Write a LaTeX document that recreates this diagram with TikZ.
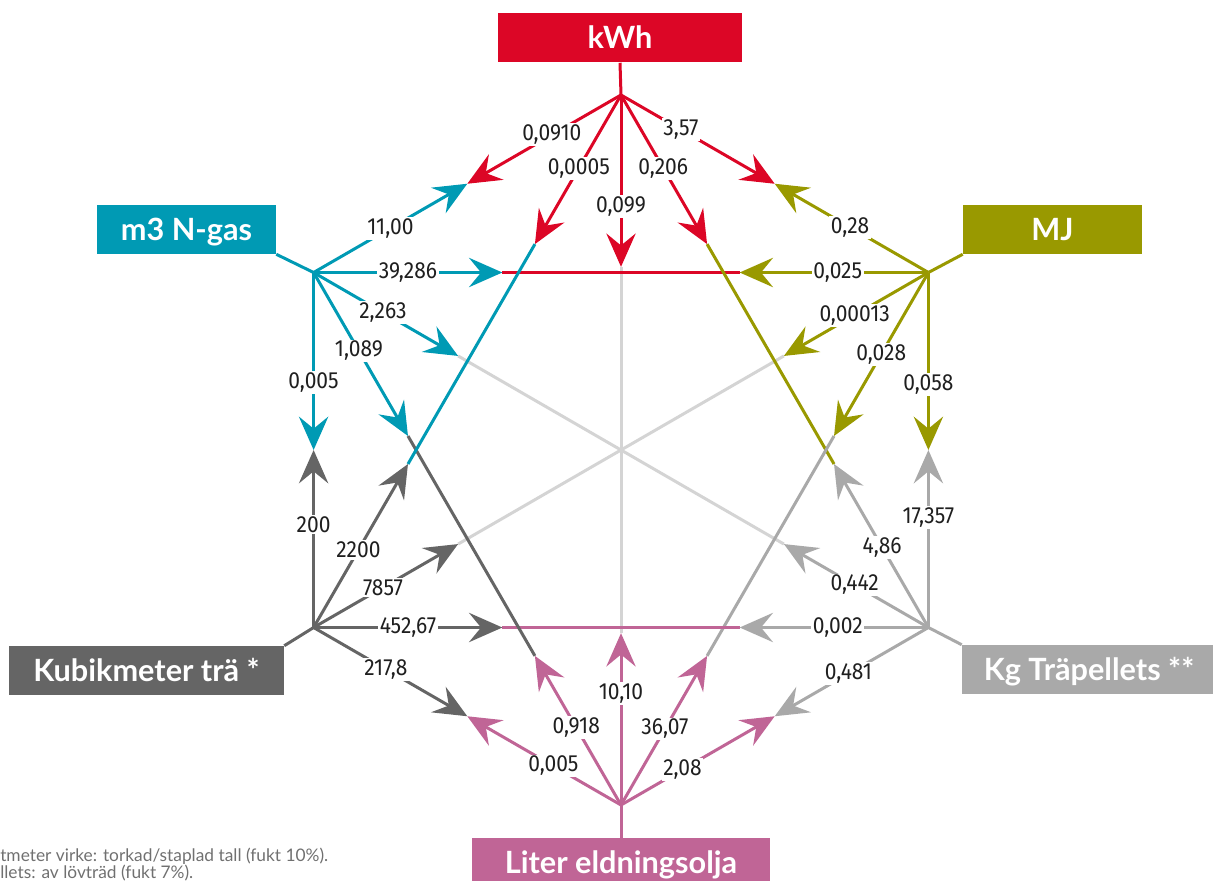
\documentclass[tikz,border=0pt]{standalone}
\usepackage{fontspec}
\setmainfont{Lato}
\newfontfamily\numfont[FakeStretch=0.9]{Fira Sans}
\usetikzlibrary{calc,positioning,arrows.meta}
\definecolor{ekred}{HTML}{DC0626}
\definecolor{ekcyan}{HTML}{009AB4}
\definecolor{ekolive}{HTML}{999900}
\definecolor{ekdark}{HTML}{656565}
\definecolor{ekgray}{HTML}{A9A9A9}
\definecolor{ekpink}{HTML}{C06596}
\definecolor{eklight}{HTML}{D4D4D4}
\definecolor{ekfoot}{HTML}{707070}
\tikzset{
  arr/.style={-{Stealth[length=25pt,width=22pt,inset=9pt]},line width=2.25pt},
  seg/.style={line width=2.25pt},
  num/.style={fill=white,inner sep=1.2pt,font=\numfont\fontsize{17.5}{20}\selectfont,text=black!88},
  unitbox/.style={inner sep=0pt,text=white,font=\bfseries\fontsize{23}{26}\selectfont,
    minimum height=36.75pt,text height=16.5pt,text depth=0pt},
  footnote/.style={anchor=base west,inner sep=0pt,text=ekfoot,font=\fontsize{13}{15}\selectfont}
}
\begin{document}
\begin{tikzpicture}[x=0.75pt,y=-0.75pt]
	\clip (0,0) rectangle (1213,881);
	\coordinate (CENTER) at (621,450);
	% hubs of the hexagon
	\coordinate (kwh) at ($ (CENTER) + (0,-355) $);
	\coordinate (mj) at ($ (CENTER) + (307.4,-177.5) $);
	\coordinate (kg) at ($ (CENTER) + (307.4,177.5) $);
	\coordinate (lit) at ($ (CENTER) + (0,355) $);
	\coordinate (kub) at ($ (CENTER) + (-307.4,177.5) $);
	\coordinate (m3) at ($ (CENTER) + (-307.4,-177.5) $);
	% unit boxes
	\node[unitbox,fill=ekred,minimum width=183pt] (kwhbox) at (620,38) {kWh};
	\node[unitbox,fill=ekcyan,minimum width=134.25pt] (m3box) at (186.5,229.5) {m3 N-gas};
	\node[unitbox,fill=ekolive,minimum width=134.25pt] (mjbox) at (1052.5,229.5) {MJ};
	\node[unitbox,fill=ekdark,minimum width=206.25pt] (kubbox) at (146.5,670.5) {Kubikmeter trä *};
	\node[unitbox,fill=ekgray,minimum width=190.5pt] (kgbox) at (1089,669.5) {Kg Träpellets **};
	\node[unitbox,fill=ekpink,minimum width=223.5pt] (litbox) at (621,862.5) {Liter eldningsolja};
	\draw[seg,ekred] (kwh) to (kwhbox.south);
	\draw[seg,ekolive] (mj) to (mjbox.south west);
	\draw[seg,ekgray] (kg) to (kgbox.north west);
	\draw[seg,ekpink] (lit) to (litbox.north);
	\draw[seg,ekdark] (kub) to (kubbox.north east);
	\draw[seg,ekcyan] (m3) to (m3box.south east);
	% arrow ends: neighbours meet half way
	\coordinate (mid-kwh-mj) at ($ (kwh)!0.5!(mj) $);
	\coordinate (mid-mj-kg) at ($ (mj)!0.5!(kg) $);
	\coordinate (mid-kg-lit) at ($ (kg)!0.5!(lit) $);
	\coordinate (mid-lit-kub) at ($ (lit)!0.5!(kub) $);
	\coordinate (mid-kub-m3) at ($ (kub)!0.5!(m3) $);
	\coordinate (mid-m3-kwh) at ($ (m3)!0.5!(kwh) $);
	% arrow ends: second neighbours
	\coordinate (t-kwh-kub) at ($ (kwh)!0.28!(kub) $);
	\coordinate (t-kwh-kg) at ($ (kwh)!0.28!(kg) $);
	\coordinate (t-lit-m3) at ($ (lit)!0.28!(m3) $);
	\coordinate (t-lit-mj) at ($ (lit)!0.28!(mj) $);
	\coordinate (t-m3-mj) at ($ (m3)!0.307!(mj) $);
	\coordinate (t-m3-lit) at ($ (m3)!0.307!(lit) $);
	\coordinate (t-mj-m3) at ($ (mj)!0.307!(m3) $);
	\coordinate (t-mj-lit) at ($ (mj)!0.307!(lit) $);
	\coordinate (t-kg-kwh) at ($ (kg)!0.307!(kwh) $);
	\coordinate (t-kg-kub) at ($ (kg)!0.307!(kub) $);
	\coordinate (t-kub-kwh) at ($ (kub)!0.307!(kwh) $);
	\coordinate (t-kub-kg) at ($ (kub)!0.307!(kg) $);
	% arrow ends: opposite hubs
	\coordinate (t-kwh-lit) at ($ (kwh)!0.242!(lit) $);
	\coordinate (t-lit-kwh) at ($ (lit)!0.242!(kwh) $);
	\coordinate (t-m3-kg) at ($ (m3)!0.235!(kg) $);
	\coordinate (t-kg-m3) at ($ (kg)!0.235!(m3) $);
	\coordinate (t-mj-kub) at ($ (mj)!0.235!(kub) $);
	\coordinate (t-kub-mj) at ($ (kub)!0.235!(mj) $);
	% inner lines
	\draw[seg,eklight] (t-kwh-lit) to (t-lit-kwh);
	\draw[seg,eklight] (t-m3-kg) to (t-kg-m3);
	\draw[seg,eklight] (t-mj-kub) to (t-kub-mj);
	\draw[seg,ekred] (t-m3-mj) to (t-mj-m3);
	\draw[seg,ekolive] (t-kwh-kg) to (t-kg-kwh);
	\draw[seg,ekgray] (t-mj-lit) to (t-lit-mj);
	\draw[seg,ekpink] (t-kub-kg) to (t-kg-kub);
	\draw[seg,ekdark] (t-m3-lit) to (t-lit-m3);
	\draw[seg,ekcyan] (t-kwh-kub) to (t-kub-kwh);
	% kWh
	\draw[arr,ekred] (kwh) to node[num,pos=0.45] {0,0910} (mid-m3-kwh);
	\draw[arr,ekred] (kwh) to node[num,pos=0.49] {0,0005} (t-kwh-kub);
	\draw[arr,ekred] (kwh) to node[num,pos=0.65] {0,099} (t-kwh-lit);
	\draw[arr,ekred] (kwh) to node[num,pos=0.49] {0,206} (t-kwh-kg);
	\draw[arr,ekred] (kwh) to node[num,pos=0.39] {3,57} (mid-kwh-mj);
	% MJ
	\draw[arr,ekolive] (mj) to node[num,pos=0.51] {0,28} (mid-kwh-mj);
	\draw[arr,ekolive] (mj) to node[num,pos=0.48] {0,025} (t-mj-m3);
	\draw[arr,ekolive] (mj) to node[num,pos=0.51] {0,00013} (t-mj-kub);
	\draw[arr,ekolive] (mj) to node[num,pos=0.50] {0,028} (t-mj-lit);
	\draw[arr,ekolive] (mj) to node[num,pos=0.63] {0,058} (mid-mj-kg);
	% Kg
	\draw[arr,ekgray] (kg) to node[num,pos=0.62] {17,357} (mid-mj-kg);
	\draw[arr,ekgray] (kg) to node[num,pos=0.49] {4,86} (t-kg-kwh);
	\draw[arr,ekgray] (kg) to node[num,pos=0.51] {0,442} (t-kg-m3);
	\draw[arr,ekgray] (kg) to node[num,pos=0.48] {0,002} (t-kg-kub);
	\draw[arr,ekgray] (kg) to node[num,pos=0.52] {0,481} (mid-kg-lit);
	% Liter
	\draw[arr,ekpink] (lit) to node[num,pos=0.44] {0,005} (mid-lit-kub);
	\draw[arr,ekpink] (lit) to node[num,pos=0.52] {0,918} (t-lit-m3);
	\draw[arr,ekpink] (lit) to node[num,pos=0.65] {10,10} (t-lit-kwh);
	\draw[arr,ekpink] (lit) to node[num,pos=0.51] {36,07} (t-lit-mj);
	\draw[arr,ekpink] (lit) to node[num,pos=0.40] {2,08} (mid-kg-lit);
	% Kubikmeter
	\draw[arr,ekdark] (kub) to node[num,pos=0.58] {200} (mid-kub-m3);
	\draw[arr,ekdark] (kub) to node[num,pos=0.475] {2200} (t-kub-kwh);
	\draw[arr,ekdark] (kub) to node[num,pos=0.48] {7857} (t-kub-mj);
	\draw[arr,ekdark] (kub) to node[num,pos=0.50] {452,67} (t-kub-kg);
	\draw[arr,ekdark] (kub) to node[num,pos=0.47] {217,8} (mid-lit-kub);
	% m3
	\draw[arr,ekcyan] (m3) to node[num,pos=0.50] {11,00} (mid-m3-kwh);
	\draw[arr,ekcyan] (m3) to node[num,pos=0.50] {39,286} (t-m3-mj);
	\draw[arr,ekcyan] (m3) to node[num,pos=0.48] {2,263} (t-m3-kg);
	\draw[arr,ekcyan] (m3) to node[num,pos=0.48] {1,089} (t-m3-lit);
	\draw[arr,ekcyan] (m3) to node[num,pos=0.62] {0,005} (mid-kub-m3);
	% footnotes (left part lies outside the picture)
	\node[footnote] (note1) at (0,861) {tmeter virke: torkad/staplad tall (fukt 10\%).};
	\node[footnote] (note2) at (0,878) {llets: av lövträd (fukt 7\%).};
\end{tikzpicture}
\end{document}
